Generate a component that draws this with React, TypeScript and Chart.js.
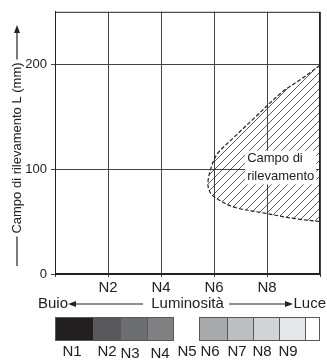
import React, { useEffect, useRef } from "react";
import { Chart, registerables } from "chart.js";

Chart.register(...registerables);

// ---- data ----
const xTickValues = [2, 4, 6, 8];
const xTickLabels = ["N2", "N4", "N6", "N8"];
const yTickValues = [0, 100, 200];
// boundary of the detection field (luminosity index, distance mm)
const fieldX = [10, 9.3, 8.6, 7.45, 6.72, 6.11, 5.875, 5.77, 5.85, 6.04, 6.72, 8.0, 9.0, 10];
const fieldY = [199, 186, 174, 147, 129.5, 114, 100, 86, 78, 73, 64, 57.6, 53, 50];
const fieldLabel = ["Campo di", "rilevamento"];
const yTitle = "Campo di rilevamento L (mm)";
const grayNames = ["N1", "N2", "N3", "N4", "N5", "N6", "N7", "N8", "N9"];
const grayColorsDark = ["#231f20", "#58585a", "#6d6e70", "#808082"];
const grayColorsLight = ["#a7a9ac", "#bcbec0", "#d1d3d4", "#e6e7e8", "#ffffff"];
const axisWords = ["Buio", "Luminosità", "Luce"];

const FONT = "'Liberation Sans', Arial, sans-serif";

function makePattern(): CanvasPattern | string {
  const c = document.createElement("canvas");
  c.width = 8;
  c.height = 8;
  const g = c.getContext("2d");
  if (!g) return "rgba(0,0,0,0.1)";
  g.strokeStyle = "#333";
  g.lineWidth = 0.8;
  g.beginPath();
  g.moveTo(-1, 9);
  g.lineTo(9, -1);
  g.moveTo(-1, 1);
  g.lineTo(1, -1);
  g.moveTo(7, 9);
  g.lineTo(9, 7);
  g.stroke();
  return g.createPattern(c, "repeat") || "rgba(0,0,0,0.1)";
}

function arrowHead(ctx: CanvasRenderingContext2D, tx: number, ty: number, dx: number, dy: number) {
  // tip at (tx,ty), direction (dx,dy) unit
  const len = 8, half = 3;
  const bx = tx - dx * len, by = ty - dy * len;
  const px = -dy, py = dx;
  ctx.beginPath();
  ctx.moveTo(tx, ty);
  ctx.lineTo(bx + px * half, by + py * half);
  ctx.lineTo(bx - px * half, by - py * half);
  ctx.closePath();
  ctx.fill();
}

const decorPlugin = {
  id: "decor",
  afterDatasetsDraw(chart: any) {
    const ctx: CanvasRenderingContext2D = chart.ctx;
    const { left, top, right, bottom } = chart.chartArea;
    const xs = chart.scales.x;
    const ys = chart.scales.y;
    ctx.save();
    // white box with label
    const lx = xs.getPixelForValue(7.25);
    const ly1 = ys.getPixelForValue(110);
    const ly2 = ys.getPixelForValue(93);
    ctx.font = `13px ${FONT}`;
    const w = Math.max(ctx.measureText(fieldLabel[0]).width, ctx.measureText(fieldLabel[1]).width);
    ctx.fillStyle = "#fff";
    ctx.fillRect(lx - 2, ly1 - 8, w + 4, ly2 - ly1 + 16);
    ctx.fillStyle = "#222";
    ctx.textAlign = "left";
    ctx.textBaseline = "middle";
    ctx.fillText(fieldLabel[0], lx, ly1);
    ctx.fillText(fieldLabel[1], lx, ly2);
    // plot border
    ctx.strokeStyle = "#222";
    ctx.lineWidth = 1;
    ctx.strokeRect(left + 0.5, top + 0.5, right - left - 1, bottom - top - 1);
    ctx.restore();
  },
  afterDraw(chart: any) {
    const ctx: CanvasRenderingContext2D = chart.ctx;
    const { left, top, right, bottom } = chart.chartArea;
    ctx.save();
    ctx.fillStyle = "#222";
    ctx.strokeStyle = "#222";
    // y-axis title
    ctx.font = `13px ${FONT}`;
    const tx = 17;
    const tw = ctx.measureText(yTitle).width;
    const tc = 148;
    ctx.save();
    ctx.translate(tx, tc);
    ctx.rotate(-Math.PI / 2);
    ctx.textAlign = "center";
    ctx.textBaseline = "middle";
    ctx.fillText(yTitle, 0, 0);
    ctx.restore();
    ctx.lineWidth = 1.2;
    ctx.beginPath();
    ctx.moveTo(tx, tc + tw / 2 + 3);
    ctx.lineTo(tx, 266);
    ctx.moveTo(tx, tc - tw / 2 - 3);
    ctx.lineTo(tx, 32);
    ctx.stroke();
    arrowHead(ctx, tx, 25, 0, -1);

    // luminosity axis
    const ay = 304;
    ctx.font = `15px ${FONT}`;
    ctx.textBaseline = "middle";
    ctx.textAlign = "left";
    ctx.fillText(axisWords[0], 38, ay);
    ctx.textAlign = "center";
    ctx.fillText(axisWords[1], 187.5, ay);
    ctx.textAlign = "left";
    ctx.fillText(axisWords[2], 293.5, ay);
    ctx.lineWidth = 1.2;
    ctx.beginPath();
    ctx.moveTo(74, ay);
    ctx.lineTo(143, ay);
    ctx.moveTo(229, ay);
    ctx.lineTo(287, ay);
    ctx.stroke();
    arrowHead(ctx, 68, ay, -1, 0);
    arrowHead(ctx, 293, ay, 1, 0);

    // gray scale boxes
    const by0 = 317, bh = 23;
    const darkEdges = [55, 93, 120, 147, 173];
    const lightEdges = [199, 227, 253, 279, 305, 319];
    ctx.lineWidth = 1;
    ctx.strokeStyle = "#58595b";
    grayColorsDark.forEach((c, i) => {
      ctx.fillStyle = c;
      ctx.fillRect(darkEdges[i], by0, darkEdges[i + 1] - darkEdges[i], bh);
      ctx.strokeRect(darkEdges[i] + 0.5, by0 + 0.5, darkEdges[i + 1] - darkEdges[i], bh);
    });
    grayColorsLight.forEach((c, i) => {
      ctx.fillStyle = c;
      ctx.fillRect(lightEdges[i], by0, lightEdges[i + 1] - lightEdges[i], bh);
      ctx.strokeRect(lightEdges[i] + 0.5, by0 + 0.5, lightEdges[i + 1] - lightEdges[i], bh);
    });
    // gray names
    const nameX = [72, 107, 130, 160, 187, 210, 237, 262, 288];
    const nameDy = [0, 0, 2, 2, 0, 0, 0, 0, 0];
    ctx.fillStyle = "#222";
    ctx.font = `15px ${FONT}`;
    ctx.textAlign = "center";
    grayNames.forEach((n, i) => ctx.fillText(n, nameX[i], 351.5 + nameDy[i]));
    ctx.restore();
  },
};

export default function App() {
  const ref = useRef<HTMLCanvasElement>(null);
  useEffect(() => {
    if (!ref.current) return;
    const pattern = makePattern();
    const chart = new Chart(ref.current, {
      type: "scatter",
      data: {
        datasets: [
          {
            data: fieldX.map((x, i) => ({ x, y: fieldY[i] })),
            showLine: true,
            borderColor: "#222",
            borderWidth: 1.2,
            borderDash: [4, 2],
            pointRadius: 0,
            tension: 0.35,
            fill: "shape",
            backgroundColor: pattern as any,
          } as any,
        ],
      },
      options: {
        animation: false,
        responsive: false,
        events: [],
        layout: { padding: { top: 9, right: 7, left: 0, bottom: 0 } },
        plugins: { legend: { display: false }, tooltip: { enabled: false } },
        scales: {
          x: {
            type: "linear",
            min: 0,
            max: 10,
            afterFit: (s: any) => {
              s.height = 87;
            },
            afterBuildTicks: (s: any) => {
              s.ticks = [0, ...xTickValues, 10].map((v) => ({ value: v }));
            },
            ticks: {
              padding: 2,
              color: "#222",
              font: { size: 15, family: FONT },
              maxRotation: 0,
              autoSkip: false,
              callback: (v: any) => {
                const i = xTickValues.indexOf(Number(v));
                return i >= 0 ? xTickLabels[i] : "";
              },
            },
            grid: { color: "#444", lineWidth: 1, tickLength: 3 },
            border: { color: "#222", width: 1 },
          },
          y: {
            type: "linear",
            min: 0,
            max: 250,
            afterFit: (s: any) => {
              s.width = 55;
            },
            afterBuildTicks: (s: any) => {
              s.ticks = yTickValues.map((v) => ({ value: v }));
            },
            ticks: {
              padding: 4,
              color: "#222",
              font: { size: 13, family: FONT },
              callback: (v: any) => String(v),
            },
            grid: { color: "#444", lineWidth: 1, tickLength: 4 },
            border: { color: "#222", width: 1 },
          },
        },
      },
      plugins: [decorPlugin as any],
    });
    return () => chart.destroy();
  }, []);
  return (
    <div style={{ position: "fixed", left: 0, top: 0, width: 327, height: 361, background: "#fff" }}>
      <canvas ref={ref} width={327} height={361} style={{ display: "block" }} />
    </div>
  );
}
